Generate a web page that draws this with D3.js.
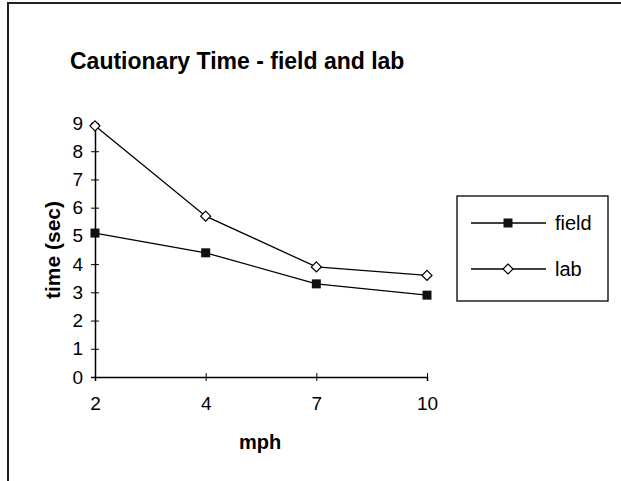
<!DOCTYPE html>
<html>
<head>
<meta charset="utf-8">
<script src="https://cdn.jsdelivr.net/npm/d3@7"></script>
<style>
  body { margin: 0; background: #fff; }
  text { font-family: "Liberation Sans", Arial, sans-serif; fill: #000; }
</style>
</head>
<body>
<div id="chart"></div>
<script>
(function () {
    // Chart data
    const speeds = ["2", "4", "7", "10"];
    const fieldTimes = [5.1, 4.4, 3.3, 2.9];
    const labTimes = [8.9, 5.7, 3.9, 3.6];
    const yTicks = [0, 1, 2, 3, 4, 5, 6, 7, 8, 9];
    const seriesNames = ["field", "lab"];

    const W = 621, H = 481;
    const plot = { left: 95, right: 427, top: 123, bottom: 377 };

    const svg = d3.select("#chart")
        .append("svg")
        .attr("width", W)
        .attr("height", H);

    // Frame (only top and left edges show in the scan)
    svg.append("path")
        .attr("d", `M8,${H} V3 H${W}`)
        .attr("fill", "none")
        .attr("stroke", "#222")
        .attr("stroke-width", 2);

    // Title
    svg.append("text")
        .attr("x", 70)
        .attr("y", 69)
        .attr("font-size", 23)
        .attr("font-weight", "bold")
        .text("Cautionary Time - field and lab");

    const x = d3.scalePoint()
        .domain(speeds)
        .range([plot.left, plot.right]);

    const y = d3.scaleLinear()
        .domain([0, 9])
        .range([plot.bottom, plot.top]);

    // Y axis with ticks crossing the line
    const yAxis = svg.append("g")
        .attr("transform", `translate(${plot.left},0)`)
        .call(d3.axisLeft(y).tickValues(yTicks).tickSize(4).tickPadding(8));
    yAxis.select(".domain").attr("stroke", "#000").attr("stroke-width", 1.5);
    yAxis.selectAll(".tick line").attr("x2", 4).attr("x1", -4).attr("stroke", "#000");
    yAxis.selectAll(".tick text").attr("font-size", 19).attr("font-family", "Liberation Sans, Arial, sans-serif");

    // X axis
    const xAxis = svg.append("g")
        .attr("transform", `translate(0,${plot.bottom})`)
        .call(d3.axisBottom(x).tickSize(4).tickPadding(16));
    xAxis.select(".domain").attr("stroke", "#000").attr("stroke-width", 1.5);
    xAxis.selectAll(".tick line").attr("y1", -4).attr("y2", 4).attr("stroke", "#000");
    xAxis.selectAll(".tick text").attr("font-size", 19).attr("font-family", "Liberation Sans, Arial, sans-serif");

    // Axis labels
    svg.append("text")
        .attr("x", 260)
        .attr("y", 449)
        .attr("text-anchor", "middle")
        .attr("font-size", 20)
        .attr("font-weight", "bold")
        .text("mph");

    svg.append("text")
        .attr("transform", `translate(60,${(plot.top + plot.bottom) / 2}) rotate(-90)`)
        .attr("text-anchor", "middle")
        .attr("font-size", 21)
        .attr("font-weight", "bold")
        .text("time (sec)");

    const line = d3.line()
        .x((d, i) => x(speeds[i]))
        .y((d) => y(d));

    function drawSquare(g, cx, cy) {
        g.append("rect")
            .attr("x", cx - 4.5).attr("y", cy - 4.5)
            .attr("width", 9).attr("height", 9)
            .attr("fill", "#111");
    }
    function drawDiamond(g, cx, cy) {
        g.append("path")
            .attr("d", `M${cx},${cy - 5} L${cx + 5},${cy} L${cx},${cy + 5} L${cx - 5},${cy} Z`)
            .attr("fill", "#fff")
            .attr("stroke", "#000")
            .attr("stroke-width", 1.2);
    }

    // Lines
    [fieldTimes, labTimes].forEach(function (vals) {
        svg.append("path")
            .datum(vals)
            .attr("fill", "none")
            .attr("stroke", "#000")
            .attr("stroke-width", 1.3)
            .attr("d", line);
    });

    // Markers
    const marks = svg.append("g");
    fieldTimes.forEach((v, i) => drawSquare(marks, x(speeds[i]), y(v)));
    labTimes.forEach((v, i) => drawDiamond(marks, x(speeds[i]), y(v)));

    // Legend
    const legend = svg.append("g");
    legend.append("rect")
        .attr("x", 457).attr("y", 196)
        .attr("width", 151).attr("height", 105)
        .attr("fill", "none")
        .attr("stroke", "#000")
        .attr("stroke-width", 1.3);

    const legendY = d3.scalePoint()
        .domain(seriesNames)
        .range([223, 269]);

    seriesNames.forEach(function (name) {
        const ly = legendY(name);
        legend.append("line")
            .attr("x1", 471).attr("x2", 546)
            .attr("y1", ly).attr("y2", ly)
            .attr("stroke", "#000")
            .attr("stroke-width", 1.3);
        if (name === "field") drawSquare(legend, 508, ly);
        else drawDiamond(legend, 508, ly);
        legend.append("text")
            .attr("x", 555)
            .attr("y", ly + 7)
            .attr("font-size", 20)
            .text(name);
    });
})();
</script>
</body>
</html>
